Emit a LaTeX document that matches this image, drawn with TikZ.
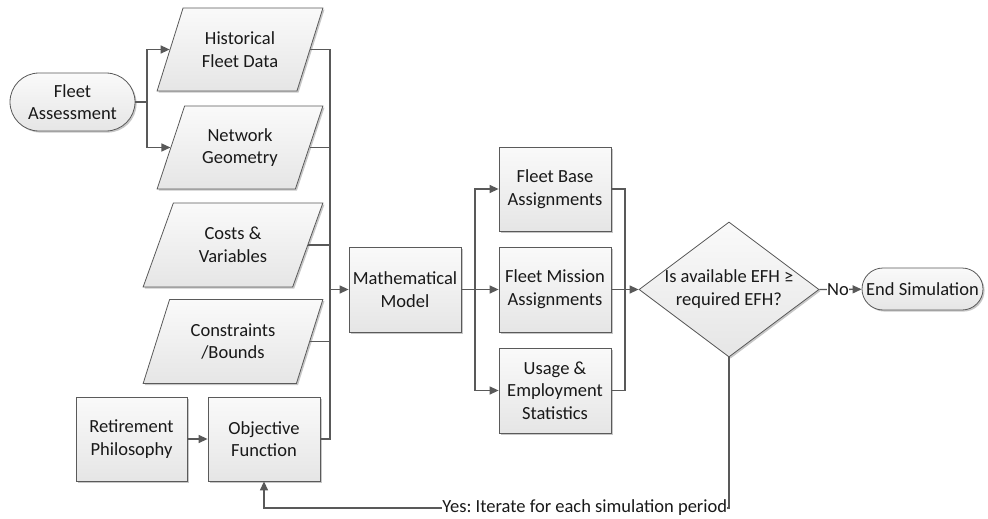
\documentclass[tikz,border=0pt]{standalone}
\usepackage{fontspec}
\setmainfont{Carlito}
\usetikzlibrary{shapes.geometric,arrows.meta,shadows}
\frenchspacing

\definecolor{edgegray}{HTML}{5A5A5A}
\definecolor{wiregray}{HTML}{595959}

\tikzset{
  txt/.style={font=\fontsize{18.5pt}{22.7pt}\selectfont, text=black!90, align=center},
  base/.style={txt, draw=edgegray, line width=0.8pt, top color=black!2, bottom color=black!10,
    drop shadow={shadow xshift=1.6pt, shadow yshift=-1.6pt, fill=black, opacity=0.22},
    inner sep=0pt},
  procbox/.style={base, rectangle, minimum width=112pt, minimum height=84pt},
  datain/.style={base, trapezium, trapezium left angle=64, trapezium right angle=116,
    trapezium stretches=true},
  terminal/.style={base, rectangle, rounded corners=#1},
  decision/.style={base, diamond, minimum width=180pt, minimum height=135pt},
  wire/.style={draw=wiregray, line width=1.3pt},
  conn/.style={wire, -{Triangle[length=9pt,width=8pt]}},
}

\begin{document}
\begin{tikzpicture}[x=1pt, y=-1pt]
  \fill[white] (0,0) rectangle (988,519);
  \useasboundingbox (0,0) rectangle (988,519);

  % start terminal and input data
  \node[terminal=29pt, minimum width=125pt, minimum height=58pt] (fa) at (72.5,102) {Fleet\\Assessment};
  \node[datain, minimum width=166pt, minimum height=83pt] (hist) at (240,49.5) {Historical\\Fleet Data};
  \node[datain, minimum width=166pt, minimum height=83pt] (net) at (240,147.5) {Network\\Geometry};
  \node[datain, minimum width=180pt, minimum height=84pt] (cost) at (233,245) {Costs \&\\Variables};
  \node[datain, minimum width=180pt, minimum height=84pt] (cons) at (233,341.5) {Constraints\\/Bounds};
  \node[procbox, minimum width=111pt] (ret) at (131.5,439) {Retirement\\Philosophy};
  \node[procbox] (obj) at (264,439) {Objective\\Function};

  % model and its outputs
  \node[procbox, minimum height=85pt] (model) at (405,289.5) {Mathematical\\Model};
  \node[procbox] (fba) at (555,189) {Fleet Base\\Assignments};
  \node[procbox, minimum height=85pt] (fma) at (555,289.5) {Fleet Mission\\Assignments};
  \node[procbox, minimum height=85pt] (use) at (555,390.5) {Usage \&\\Employment\\Statistics};

  % decision and end terminal
  \node[decision] (dec) at (729,289.5) {};
  \node[txt, inner sep=0pt] (decq) at (729,289) {Is available EFH ≥\\required EFH?};
  \node[terminal=21pt, minimum width=121pt, minimum height=42pt] (endsim) at (922.5,289) {End Simulation};

  % junction points
  \coordinate (fb) at (147,102);
  \coordinate (lb) at (330,289.5);
  \coordinate (mb) at (475,289.5);
  \coordinate (rb) at (625,289.5);
  \coordinate (yc) at (729,508);
  \coordinate (yl) at (264,508);

  % fan-out from the fleet assessment
  \draw[wire] (fa) -- (fb);
  \draw[conn] (fb) |- (hist);
  \draw[conn] (fb) |- (net);

  % inputs collected into the model
  \draw[wire] (hist) -| (lb);
  \draw[wire] (net) -| (lb);
  \draw[wire] (cost) -| (lb);
  \draw[wire] (cons) -| (lb);
  \draw[wire] (obj) -| (lb);
  \draw[conn] (ret) -- (obj);
  \draw[conn] (lb) -- (model);

  % model outputs
  \draw[wire] (model) -- (mb);
  \draw[conn] (mb) |- (fba);
  \draw[conn] (mb) -- (fma);
  \draw[conn] (mb) |- (use);

  % outputs collected into the decision
  \draw[wire] (fba) -| (rb);
  \draw[wire] (fma) -- (rb);
  \draw[wire] (use) -| (rb);
  \draw[conn] (rb) -- (dec.west);

  % decision branches
  \draw[conn] (dec.east) -- node[txt, pos=0.44, fill=white, inner sep=0.5pt] (nolbl) {No} (endsim);
  \draw[conn] (dec.south) -- (yc) -- node[txt, pos=0, anchor=east, xshift=-1.2pt, fill=white, inner sep=0pt] (yeslbl) {Yes: Iterate for each simulation period} (yl) -- (obj.south);
\end{tikzpicture}
\end{document}
